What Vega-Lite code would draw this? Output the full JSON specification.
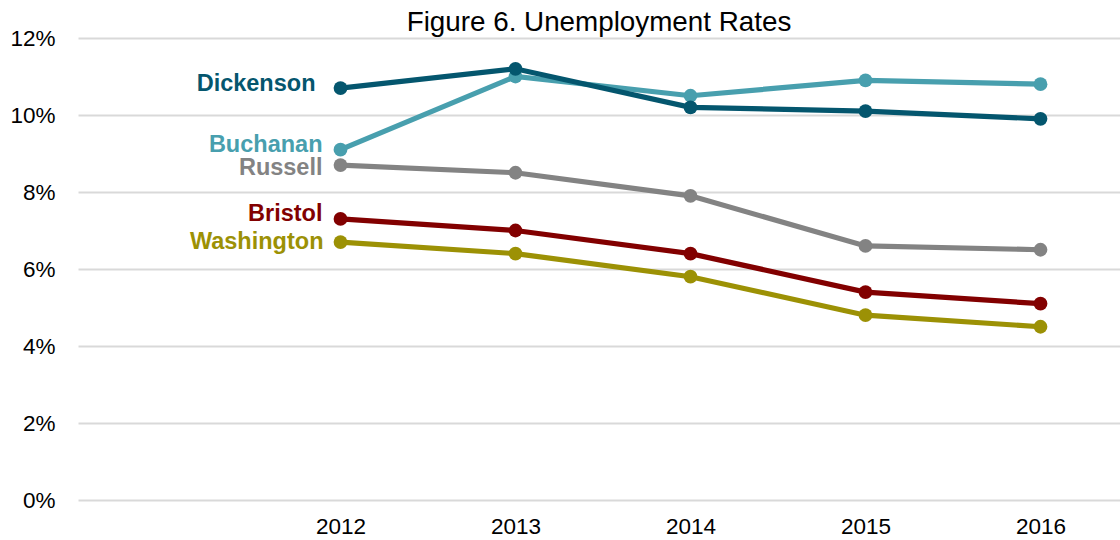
{
  "$schema": "https://vega.github.io/schema/vega-lite/v6.json",
  "autosize": {"type": "none"},
  "padding": {"left": 78, "top": 38, "right": 0, "bottom": 40},
  "width": 1042,
  "height": 462,
  "background": "white",
  "title": {"text": "Figure 6. Unemployment Rates", "font": "Liberation Sans", "fontSize": 27.8, "fontWeight": "normal", "color": "#000000", "anchor": "middle", "offset": -10},
  "config": {"view": {"stroke": null}, "font": "Liberation Sans"},
  "data": {"values": [
    {"county": "Washington", "year": "2012", "rate": 0.067},
    {"county": "Washington", "year": "2013", "rate": 0.064},
    {"county": "Washington", "year": "2014", "rate": 0.058},
    {"county": "Washington", "year": "2015", "rate": 0.048},
    {"county": "Washington", "year": "2016", "rate": 0.045},
    {"county": "Bristol", "year": "2012", "rate": 0.073},
    {"county": "Bristol", "year": "2013", "rate": 0.070},
    {"county": "Bristol", "year": "2014", "rate": 0.064},
    {"county": "Bristol", "year": "2015", "rate": 0.054},
    {"county": "Bristol", "year": "2016", "rate": 0.051},
    {"county": "Russell", "year": "2012", "rate": 0.087},
    {"county": "Russell", "year": "2013", "rate": 0.085},
    {"county": "Russell", "year": "2014", "rate": 0.079},
    {"county": "Russell", "year": "2015", "rate": 0.066},
    {"county": "Russell", "year": "2016", "rate": 0.065},
    {"county": "Buchanan", "year": "2012", "rate": 0.091},
    {"county": "Buchanan", "year": "2013", "rate": 0.110},
    {"county": "Buchanan", "year": "2014", "rate": 0.105},
    {"county": "Buchanan", "year": "2015", "rate": 0.109},
    {"county": "Buchanan", "year": "2016", "rate": 0.108},
    {"county": "Dickenson", "year": "2012", "rate": 0.107},
    {"county": "Dickenson", "year": "2013", "rate": 0.112},
    {"county": "Dickenson", "year": "2014", "rate": 0.102},
    {"county": "Dickenson", "year": "2015", "rate": 0.101},
    {"county": "Dickenson", "year": "2016", "rate": 0.099}
  ]},
  "encoding": {
    "x": {"field": "year", "type": "ordinal",
      "scale": {"type": "point", "domain": ["", "2012", "2013", "2014", "2015", "2016"], "range": [0, 1050], "padding": 0.5},
      "axis": {"title": null, "labelAngle": 0, "domain": false, "ticks": false, "grid": false, "labelFontSize": 22.5, "labelColor": "#000000", "labelPadding": 15, "labelFont": "Liberation Sans"}},
    "y": {"field": "rate", "type": "quantitative",
      "scale": {"domain": [0, 0.12], "nice": false, "zero": true},
      "axis": {"title": null, "values": [0, 0.02, 0.04, 0.06, 0.08, 0.1, 0.12], "format": ".0%", "domain": false, "ticks": false, "grid": true, "gridColor": "#d9d9d9", "gridWidth": 2, "labelFontSize": 22.5, "labelColor": "#000000", "labelPadding": 23, "labelFont": "Liberation Sans"}},
    "color": {"field": "county", "type": "nominal", "legend": null,
      "scale": {"domain": ["Washington", "Bristol", "Russell", "Buchanan", "Dickenson"], "range": ["#9c9105", "#820000", "#838383", "#489fae", "#04566e"]}}
  },
  "layer": [
    {"mark": {"type": "line", "strokeWidth": 5.2}},
    {"mark": {"type": "circle", "size": 190, "opacity": 1}},
    {"transform": [{"filter": "datum.year == '2012' && (datum.county == 'Buchanan' || datum.county == 'Bristol')"}],
     "mark": {"type": "text", "align": "right", "baseline": "middle", "dx": -18, "dy": -5, "fontSize": 23.5, "fontWeight": "bold", "font": "Liberation Sans"},
     "encoding": {"text": {"field": "county"}}},
    {"transform": [{"filter": "datum.year == '2012' && datum.county == 'Russell'"}],
     "mark": {"type": "text", "align": "right", "baseline": "middle", "dx": -18, "dy": 3, "fontSize": 23.5, "fontWeight": "bold", "font": "Liberation Sans"},
     "encoding": {"text": {"field": "county"}}},
    {"transform": [{"filter": "datum.year == '2012' && datum.county == 'Washington'"}],
     "mark": {"type": "text", "align": "right", "baseline": "middle", "dx": -17, "dy": 0, "fontSize": 23.5, "fontWeight": "bold", "font": "Liberation Sans"},
     "encoding": {"text": {"field": "county"}}},
    {"transform": [{"filter": "datum.year == '2012' && datum.county == 'Dickenson'"}],
     "mark": {"type": "text", "align": "right", "baseline": "middle", "dx": -25, "dy": -4, "fontSize": 23.5, "fontWeight": "bold", "font": "Liberation Sans"},
     "encoding": {"text": {"field": "county"}}}
  ]
}
